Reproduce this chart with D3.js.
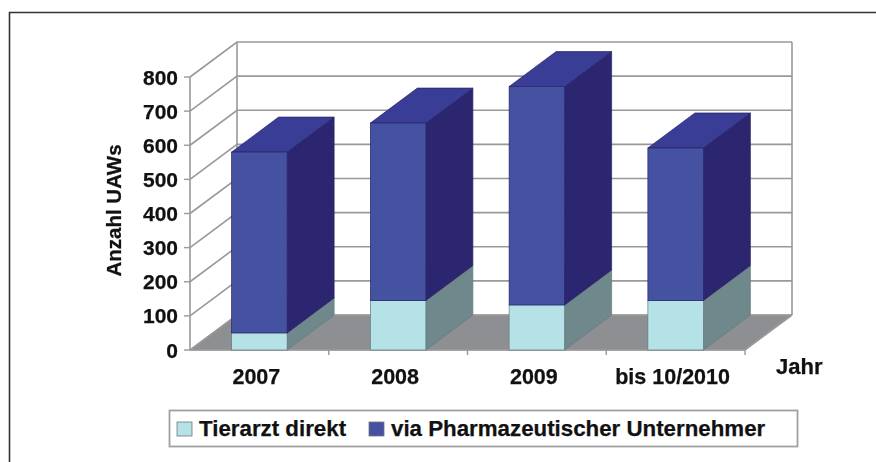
<!DOCTYPE html>
<html>
<head>
<meta charset="utf-8">
<script src="https://cdn.jsdelivr.net/npm/d3@7"></script>
<style>
  html, body { margin: 0; padding: 0; background: #fff; }
  svg { display: block; filter: blur(0.5px); }
  text { font-family: "Liberation Sans", Arial, sans-serif; font-weight: bold; fill: #111; stroke: #111; stroke-width: 0.25px; }
</style>
</head>
<body>
<svg id="chart"></svg>
<script>
// data
const years = ["2007", "2008", "2009", "bis 10/2010"];
const tierarzt = [50, 145, 132, 145];
const pharma = [530, 520, 640, 447];
const seriesNames = ["Tierarzt direkt", "via Pharmazeutischer Unternehmer"];
const yTicks = [0, 100, 200, 300, 400, 500, 600, 700, 800];

const width = 876, height = 462;
const plot = {left: 190, right: 745, top: 77, bottom: 350};
const depth = {x: 47, y: -35}; // shift from front plane to back wall

const colors = {
  tierarzt: {front: "#b5e2e7", side: "#6f888c", top: "#8fb3b7"},
  pharma: {front: "#4551a1", side: "#2c2670", top: "#3a3d95"}
};

const svg = d3.select("#chart").attr("width", width).attr("height", height);

const x = d3.scaleBand().domain(years).range([plot.left, plot.right]).paddingInner(0.6).paddingOuter(0.3);
const y = d3.scaleLinear().domain([0, 800]).range([plot.bottom, plot.top]);
const slot = d3.scaleBand().domain(years).range([plot.left, plot.right]);

const poly = (pts) => d3.line()(pts) + "Z";

// outer frame, only left and top
svg.append("path")
  .attr("d", "M9.5,462V12.5H876")
  .attr("fill", "none").attr("stroke", "#333").attr("stroke-width", 1.6);

// floor
svg.append("path")
  .attr("d", poly([[plot.left, y(0)], [plot.right, y(0)], [plot.right + depth.x, y(0) + depth.y], [plot.left + depth.x, y(0) + depth.y]]))
  .attr("fill", "#8e8f93").attr("stroke", "#9a9a9a");

// walls and grid lines
const grid = svg.append("g").attr("fill", "none").attr("stroke", "#999").attr("stroke-width", 1.6);
grid.selectAll(".wall").data(yTicks).join("path")
  .attr("d", d => d3.line()([[plot.left, y(d)], [plot.left + depth.x, y(d) + depth.y], [plot.right + depth.x, y(d) + depth.y]]));
grid.append("path").attr("d", d3.line()([[plot.left, y(0)], [plot.left, y(800)]]));
grid.append("path").attr("d", d3.line()([[plot.left + depth.x, y(0) + depth.y], [plot.left + depth.x, y(800) + depth.y]]));
grid.append("path").attr("d", d3.line()([[plot.right + depth.x, y(0) + depth.y], [plot.right + depth.x, y(800) + depth.y]]));
grid.append("path").attr("d", d3.line()([[plot.left, y(0)], [plot.right, y(0)], [plot.right + depth.x, y(0) + depth.y]]));

// tick marks
svg.append("g").attr("stroke", "#999").attr("stroke-width", 1.4)
  .selectAll("line").data(yTicks).join("line")
  .attr("x1", plot.left - 6).attr("x2", plot.left).attr("y1", d => y(d)).attr("y2", d => y(d));
svg.append("g").attr("stroke", "#999").attr("stroke-width", 1.4)
  .selectAll("line").data(years.slice(1).concat("end")).join("line")
  .attr("x1", (d, i) => plot.left + slot.step() * (i + 1)).attr("x2", (d, i) => plot.left + slot.step() * (i + 1))
  .attr("y1", y(0)).attr("y2", y(0) + 5);

// 3d stacked bars
function drawSegment(g, xLeft, w, v0, v1, c) {
  const y0 = y(v0), y1 = y(v1);
  const stroke = d3.color(c.side).darker(0.3);
  g.append("path").attr("d", poly([[xLeft + w, y0], [xLeft + w + depth.x, y0 + depth.y], [xLeft + w + depth.x, y1 + depth.y], [xLeft + w, y1]]))
    .attr("fill", c.side).attr("stroke", stroke).attr("stroke-width", 0.7);
  g.append("path").attr("d", poly([[xLeft, y1], [xLeft + w, y1], [xLeft + w + depth.x, y1 + depth.y], [xLeft + depth.x, y1 + depth.y]]))
    .attr("fill", c.top).attr("stroke", stroke).attr("stroke-width", 0.7);
  g.append("rect").attr("x", xLeft).attr("y", y1).attr("width", w).attr("height", y0 - y1)
    .attr("fill", c.front).attr("stroke", stroke).attr("stroke-width", 0.7);
}

years.forEach((yr, i) => {
  const g = svg.append("g").attr("class", "bar");
  drawSegment(g, x(yr), x.bandwidth(), 0, tierarzt[i], colors.tierarzt);
  drawSegment(g, x(yr), x.bandwidth(), tierarzt[i], tierarzt[i] + pharma[i], colors.pharma);
});

// y tick labels
svg.append("g").selectAll("text").data(yTicks).join("text")
  .attr("x", 178).attr("y", d => y(d)).attr("dy", "0.36em")
  .attr("text-anchor", "end").style("font-size", "21px").text(d => d);

// category labels
svg.append("g").selectAll("text").data(years).join("text")
  .attr("x", d => slot(d) + slot.bandwidth() / 2 - 3).attr("y", 384)
  .attr("text-anchor", "middle").style("font-size", "21.5px").text(d => d);

svg.append("text").attr("x", 776).attr("y", 374).style("font-size", "22px").text("Jahr");

svg.append("text")
  .attr("transform", "translate(120.5,210.5) rotate(-90)")
  .attr("text-anchor", "middle").style("font-size", "20.5px").text("Anzahl UAWs");

// legend
const legend = svg.append("g");
legend.append("rect").attr("x", 169.5).attr("y", 410.5).attr("width", 628).attr("height", 36)
  .attr("fill", "#fff").attr("stroke", "#a0a0a0").attr("stroke-width", 1.8);
const legendItems = [
  {name: seriesNames[0], x: 177, color: colors.tierarzt.front, text: 199},
  {name: seriesNames[1], x: 369, color: colors.pharma.front, text: 391}
];
legendItems.forEach(d => {
  legend.append("rect").attr("x", d.x).attr("y", 422).attr("width", 15).attr("height", 14)
    .attr("fill", d.color).attr("stroke", "#777").attr("stroke-width", 0.8);
  legend.append("text").attr("x", d.text).attr("y", 436).style("font-size", "22.3px").text(d.name);
});
</script>
</body>
</html>
